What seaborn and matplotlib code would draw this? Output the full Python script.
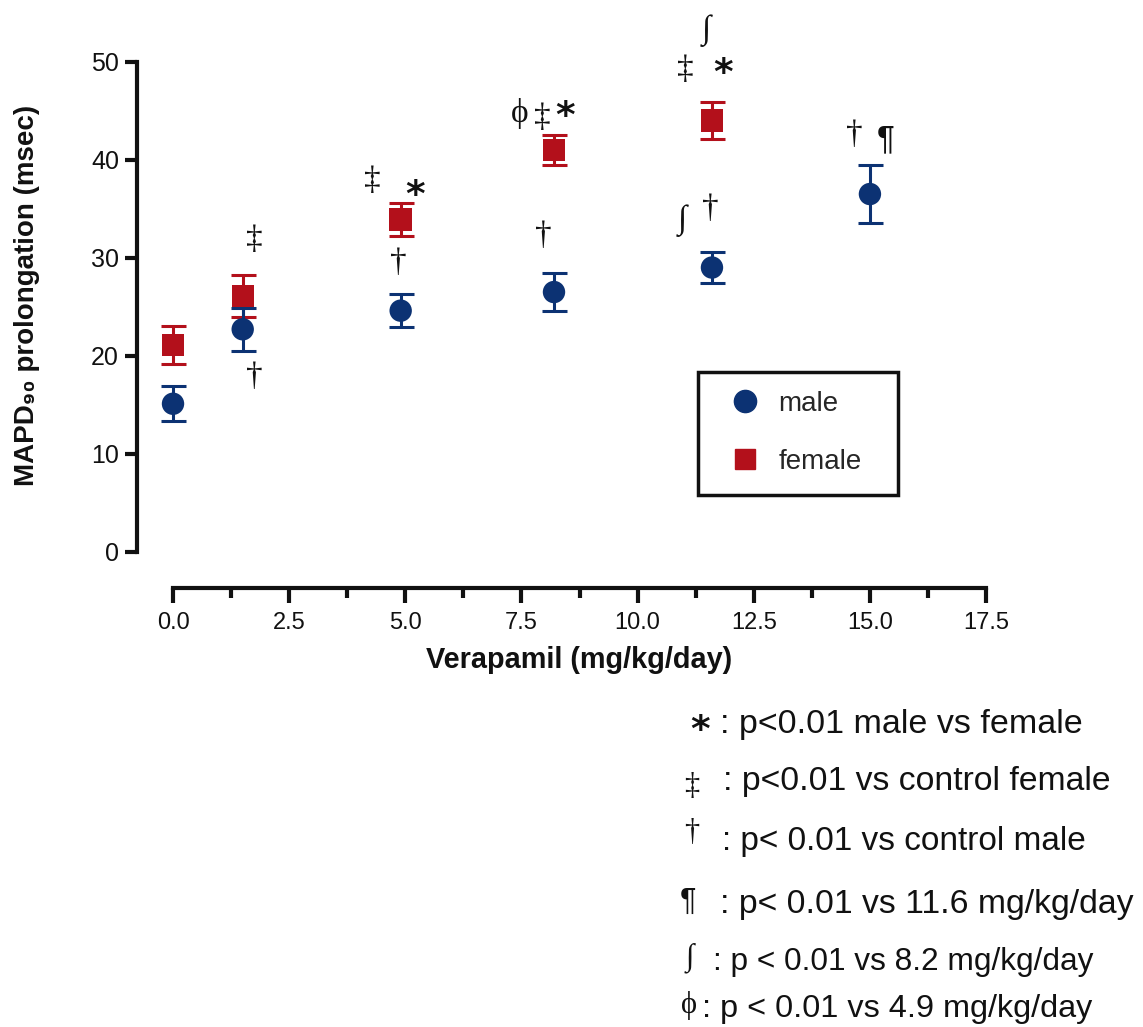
import matplotlib
matplotlib.use("Agg")
import matplotlib.pyplot as plt
from matplotlib.lines import Line2D
from matplotlib.patches import Rectangle
import seaborn as sns
import pandas as pd

# MAPD90 prolongation (mean ± SEM) by verapamil dose
male_dose = [0.0, 1.5, 4.9, 8.2, 11.6, 15.0]
male_mean = [15.1, 22.7, 24.6, 26.5, 29.0, 36.5]
male_sem = [1.8, 2.2, 1.7, 1.9, 1.6, 3.0]

female_dose = [0.0, 1.5, 4.9, 8.2, 11.6]
female_mean = [21.1, 26.1, 33.9, 41.0, 44.0]
female_sem = [1.9, 2.1, 1.7, 1.5, 1.9]

x_ticks = [0.0, 2.5, 5.0, 7.5, 10.0, 12.5, 15.0, 17.5]
y_ticks = [0, 10, 20, 30, 40, 50]

# significance marks placed next to the points: (symbol, dose, value)
sig_marks = [
    ("‡", 1.76, 31.8), ("†", 1.76, 17.9),
    ("‡", 4.30, 37.9), ("*", 5.21, 36.3), ("†", 4.84, 29.5),
    ("ϕ", 7.47, 44.7), ("‡", 7.94, 44.3), ("*", 8.44, 44.4), ("†", 7.96, 32.2),
    ("∫", 11.47, 53.2), ("‡", 11.02, 49.2), ("*", 11.84, 48.7),
    ("∫", 10.96, 33.8), ("†", 11.56, 35.0),
    ("†", 14.66, 42.5), ("¶", 15.33, 42.0),
]

# footnote key: (symbol, explanation)
notes = [
    ("*", ": p<0.01 male vs female"),
    ("‡", ": p<0.01 vs control female"),
    ("†", ": p< 0.01 vs control male"),
    ("¶", ": p< 0.01 vs 11.6 mg/kg/day"),
    ("∫", ": p < 0.01 vs 8.2 mg/kg/day"),
    ("ϕ", ": p < 0.01 vs 4.9 mg/kg/day"),
]

MALE_C = "#0c3273"
FEMALE_C = "#b3101b"
INK = "#111111"

sns.set_theme(style="white")
plt.rcParams["font.family"] = ["Liberation Sans", "DejaVu Sans"]

W, H = 1143, 1027
fig = plt.figure(figsize=(W / 100, H / 100), dpi=100)
fig.patch.set_facecolor("white")


def fx(px):
    return px / W


def fy(py):
    return 1 - py / H


ax = fig.add_axes([fx(137), fy(588), fx(997.7) - fx(137), fy(49) - fy(588)])
ax.set_facecolor("white")

df = pd.concat([
    pd.DataFrame({"dose": male_dose, "mapd": male_mean, "sem": male_sem, "sex": "male"}),
    pd.DataFrame({"dose": female_dose, "mapd": female_mean, "sem": female_sem, "sex": "female"}),
], ignore_index=True)

for sex, col in [("female", FEMALE_C), ("male", MALE_C)]:
    d = df[df["sex"] == sex]
    ax.errorbar(d["dose"], d["mapd"], yerr=d["sem"], fmt="none", ecolor=col,
                elinewidth=2.2, capsize=9, capthick=2.2, zorder=2)

sns.scatterplot(data=df, x="dose", y="mapd", hue="sex", style="sex",
                hue_order=["female", "male"], style_order=["female", "male"],
                palette={"male": MALE_C, "female": FEMALE_C},
                markers={"male": "o", "female": "s"},
                s=260, linewidth=0, legend=False, ax=ax, zorder=3)

ax.set_xlim(-0.775, 17.75)
ax.set_ylim(-3.7, 51.3)
ax.set_xticks(x_ticks)
ax.set_xticklabels([f"{v:.1f}" for v in x_ticks])
ax.set_xticks([v + 1.25 for v in x_ticks[:-1]], minor=True)
ax.set_yticks(y_ticks)
ax.set_yticklabels([str(v) for v in y_ticks])

for s in ["top", "right"]:
    ax.spines[s].set_visible(False)
ax.spines["left"].set_bounds(0, 50)
ax.spines["bottom"].set_bounds(0, 17.5)
for s in ["left", "bottom"]:
    ax.spines[s].set_linewidth(3)
    ax.spines[s].set_color(INK)

ax.tick_params(axis="y", which="major", direction="out", length=9, width=3,
               color=INK, left=True, labelsize=18, pad=4)
ax.tick_params(axis="x", which="major", direction="out", length=11, width=3,
               color=INK, bottom=True, labelsize=17, pad=6)
ax.tick_params(axis="x", which="minor", direction="out", length=7, width=3,
               color=INK, bottom=True)
for lbl in ax.get_yticklabels() + ax.get_xticklabels():
    lbl.set_color(INK)

ax.set_xlabel("")
ax.set_ylabel("")
fig.text(fx(579), fy(660), "Verapamil (mg/kg/day)", ha="center", va="center",
         fontsize=20.8, fontweight="bold", color=INK)
fig.text(fx(27), fy(295), "MAPD₉₀ prolongation (msec)", ha="center", va="center",
         rotation=90, fontsize=20, fontweight="bold", color=INK,
         family=["Liberation Sans", "DejaVu Sans"])

SERIF = ["Liberation Serif", "DejaVu Serif"]


def symbol_style(sym, size):
    if sym == "*":
        return dict(fontsize=27, fontweight="bold", family=["DejaVu Sans"])
    if sym == "¶":
        return dict(fontsize=size, family=["Liberation Sans", "DejaVu Sans"])
    return dict(fontsize=size, family=SERIF)


for sym, x, y in sig_marks:
    ax.text(x, y, sym, ha="center", va="center", color=INK, clip_on=False,
            **symbol_style(sym, 24))

# legend box
fig.patches.append(Rectangle((fx(698), fy(495)), fx(898) - fx(698), fy(372) - fy(495),
                             transform=fig.transFigure, fill=False, edgecolor=INK,
                             linewidth=2.5))
handles = [Line2D([], [], marker="o", linestyle="none", color=MALE_C, markersize=16),
           Line2D([], [], marker="s", linestyle="none", color=FEMALE_C, markersize=15)]
fig.legend(handles, ["male", "female"], loc="center",
           bbox_to_anchor=(fx(798), fy(433)), frameon=False, fontsize=20,
           handlelength=0.8, handletextpad=0.8, labelspacing=1.15)

# footnote key
note_base = [733, 790, 850, 913, 970, 1017]
note_x = [720, 723, 722, 720, 713, 702]
sym_pos = [(700, 731), (692, 787), (692, 833), (688, 902), (690, 958), (689, 1005)]
note_size = [24.5, 24.3, 24, 24.3, 22.8, 23.3]
for (sym, txt), b, tx, (sx, sy), fs in zip(notes, note_base, note_x, sym_pos, note_size):
    fig.text(fx(tx), fy(b), txt, ha="left", va="baseline", fontsize=fs, color=INK)
    fig.text(fx(sx), fy(sy), sym, ha="center", va="center", color=INK,
             **symbol_style(sym, 22))

fig.savefig("out.png", dpi=100, facecolor="white")
